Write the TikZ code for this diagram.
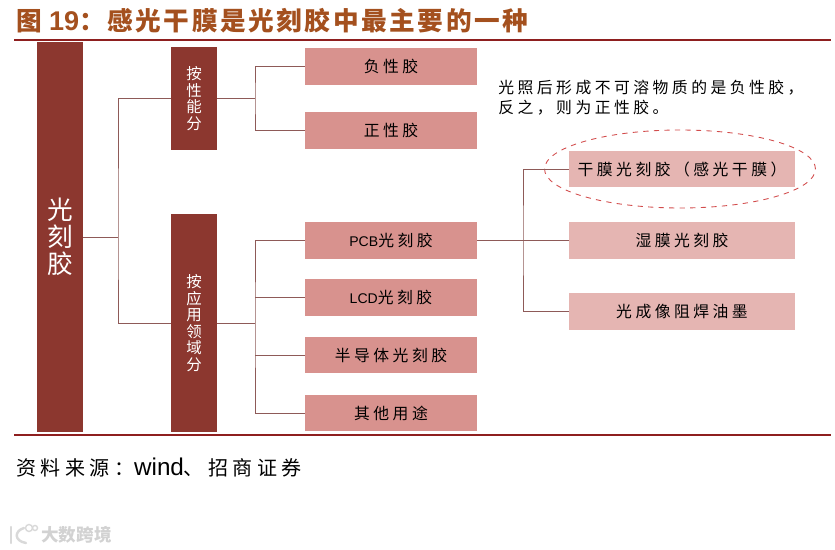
\documentclass[tikz,border=0pt]{standalone}
\usepackage{fontspec}
\usepackage{xcolor}
\usetikzlibrary{shapes.geometric, positioning}
\setmainfont{Liberation Sans}
\newfontfamily\cjk[LetterSpace=22]{Noto Sans CJK SC}
\newfontfamily\cjkhead[LetterSpace=10]{Noto Sans CJK SC}
\newfontfamily\cjktight{Noto Sans CJK SC}
\definecolor{darkred}{HTML}{8C372F}
\definecolor{midred}{HTML}{D8928E}
\definecolor{palered}{HTML}{E5B5B2}
\definecolor{linered}{HTML}{8E5A58}
\definecolor{rulered}{HTML}{8E1F1F}
\definecolor{headbrown}{HTML}{A4501E}

\begin{document}
\begin{tikzpicture}[
        x=0.02cm, y=-0.02cm,
        catbox/.style={rectangle, fill=darkred, text=white, minimum width=0.92cm, align=center, inner sep=0pt, font=\fontsize{8.8}{9.4}\selectfont\cjktight},
        leafbox/.style={rectangle, fill=midred, minimum width=3.44cm, minimum height=0.74cm, align=center, inner sep=0pt, font=\fontsize{9}{10}\selectfont\cjk},
        subbox/.style={rectangle, fill=palered, minimum width=4.52cm, minimum height=0.74cm, align=center, inner sep=0pt, font=\fontsize{9}{10}\selectfont\cjk},
        conn/.style={draw=linered, line width=0.5pt},
        rule/.style={draw=rulered, line width=0.8pt}
    ]
    \useasboundingbox (0,0) rectangle (835,550);

    % Titel und Linien
    \node (title) [anchor=west, inner sep=0pt, text=headbrown, font=\fontsize{14.6}{16}\selectfont\bfseries] at (16,21) {{\cjkhead\bfseries 图} {\fontsize{15.4}{16}\selectfont 19}{\cjkhead\bfseries ：感光干膜是光刻胶中最主要的一种}};
    \coordinate (ruletopl) at (14,40);
    \coordinate (ruletopr) at (831,40);
    \coordinate (rulebotl) at (14,435);
    \coordinate (rulebotr) at (831,435);
    \draw [rule] (ruletopl) -- (ruletopr);
    \draw [rule] (rulebotl) -- (rulebotr);

    % Hauptblock und Kategorien
    \node (root) [catbox, minimum height=7.8cm, minimum width=0.92cm, font=\fontsize{14.6}{15.2}\selectfont\cjktight] at (60,237) {光\\刻\\胶};
    \node (perf) [catbox, minimum height=2.06cm] at (194,98.5) {按\\性\\能\\分};
    \node (appl) [catbox, minimum height=4.36cm] at (194,323) {按\\应\\用\\领\\域\\分};

    % Mittlere Spalte
    \node (neg)  [leafbox] at (391,66.5)  {负性胶};
    \node (pos)  [leafbox] at (391,130.5) {正性胶};
    \node (pcb)  [leafbox] at (391,240.5) {{\rmfamily\fontsize{8}{10}\selectfont PCB}光刻胶};
    \node (lcd)  [leafbox] at (391,297.5) {{\rmfamily\fontsize{8}{10}\selectfont LCD}光刻胶};
    \node (semi) [leafbox] at (391,355)   {半导体光刻胶};
    \node (misc) [leafbox] at (391,413)   {其他用途};

    % Rechte Spalte
    \node (dry)   [subbox] at (682,169)   {干膜光刻胶（感光干膜）};
    \node (wet)   [subbox] at (682,240.5) {湿膜光刻胶};
    \node (photo) [subbox] at (682,311.5) {光成像阻焊油墨};

    % Hinweis und Markierung
    \node (note) [anchor=north west, inner sep=0pt, align=left, font=\fontsize{9}{11.3}\selectfont\cjk] at (498,80) {光照后形成不可溶物质的是负性胶，\\反之，则为正性胶。};
    \node (mark) [ellipse, draw=red!75!black!70, dashed, line width=0.5pt, minimum width=5.42cm, minimum height=1.56cm, inner sep=0pt] at (680,169) {};

    % Verzweigungen
    \coordinate (busa) at (118,237);
    \coordinate (busb) at (255,98.5);
    \coordinate (busc) at (255,323);
    \coordinate (busd) at (523,240.5);
    \draw [conn] (root.east) -- (busa);
    \draw [conn] (perf.west) -| (busa) |- (appl.west);
    \draw [conn] (perf.east) -- (busb);
    \draw [conn] (neg.west) -| (busb) |- (pos.west);
    \draw [conn] (appl.east) -- (busc);
    \draw [conn] (pcb.west) -| (busc) |- (misc.west);
    \draw [conn] (lcd.west) -- (lcd.west -| busc);
    \draw [conn] (semi.west) -- (semi.west -| busc);
    \draw [conn] (pcb.east) -- (wet.west);
    \draw [conn] (dry.west) -| (busd) |- (photo.west);

    % Quelle
    \node (source) [anchor=west, inner sep=0pt, font=\fontsize{11.4}{14}\selectfont] at (16,468) {{\cjk 资料来源：}{\fontsize{13.8}{14}\selectfont wind}{\cjk 、招商证券}};

    % Wasserzeichen
    \node (wmark) [anchor=west, inner sep=0pt, text=gray!35, font=\fontsize{10}{12}\selectfont\cjktight\bfseries] at (41,535) {大数跨境};
    \draw [gray!30, line width=1.4pt, line cap=round] (11,527) -- (11,543);
    \draw [gray!30, line width=1.4pt, line cap=round] (24,528) .. controls (14,531) and (14,541) .. (26,543);
    \draw [gray!30, line width=0.8pt] (29,528) circle (3.5);
    \draw [gray!30, line width=0.8pt] (35,528) circle (2.5);
\end{tikzpicture}
\end{document}
